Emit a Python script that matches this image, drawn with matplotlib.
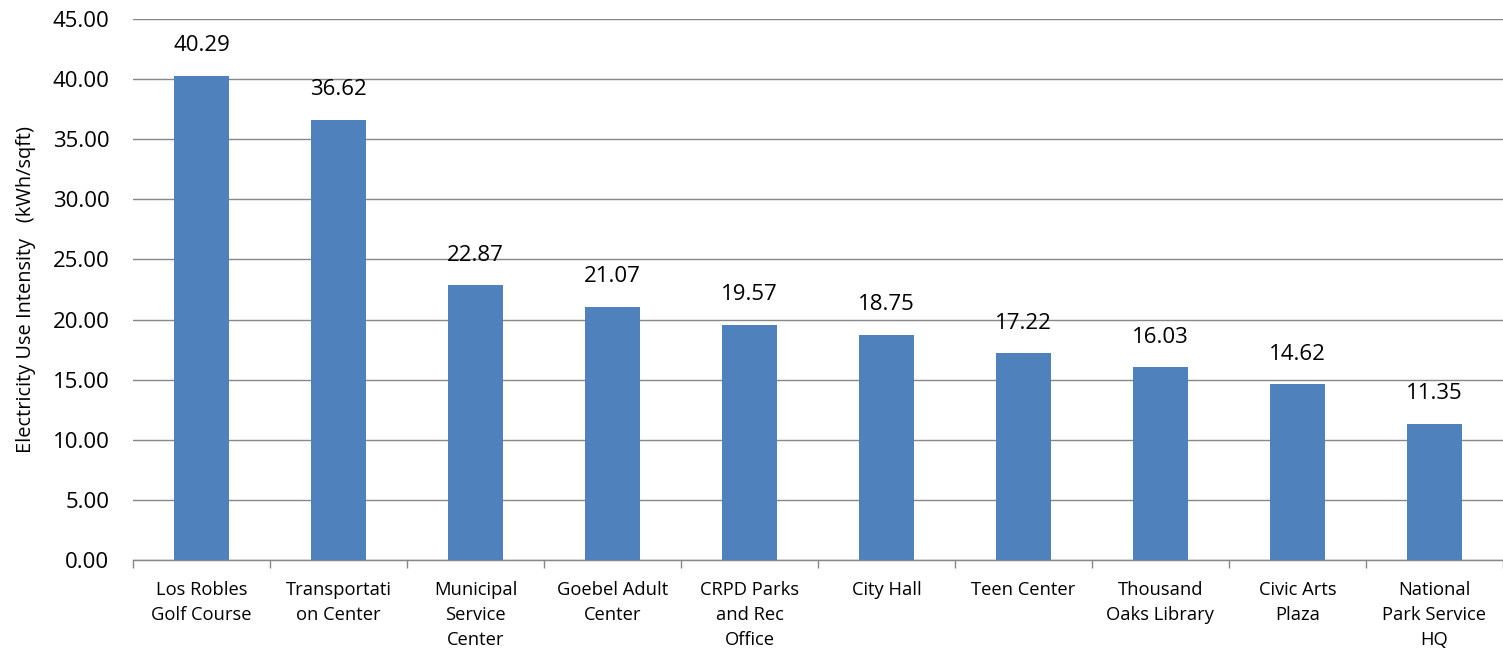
import matplotlib
matplotlib.use("Agg")
import matplotlib.pyplot as plt
import numpy as np

categories = ["Los Robles\nGolf Course", "Transportati\non Center", "Municipal\nService\nCenter",
              "Goebel Adult\nCenter", "CRPD Parks\nand Rec\nOffice", "City Hall", "Teen Center",
              "Thousand\nOaks Library", "Civic Arts\nPlaza", "National\nPark Service\nHQ"]
values = [40.29, 36.62, 22.87, 21.07, 19.57, 18.75, 17.22, 16.03, 14.62, 11.35]
yticks = [0, 5, 10, 15, 20, 25, 30, 35, 40, 45]

plt.rcParams['font.family'] = ['Open Sans', 'DejaVu Sans']

fig = plt.figure(figsize=(15.03, 6.52), dpi=100)
ax = fig.add_axes([133/1503, 1-560/652, 1-133/1503, (560-19)/652])

x = np.arange(len(values))
ax.bar(x, values, width=0.4, color='#4F81BD', zorder=3)
for xi, v in zip(x, values):
    ax.annotate(f"{v:.2f}", (xi, v), xytext=(0, 14), textcoords='offset points',
                ha='center', va='bottom', fontsize=16, color='#000000')

ax.set_xlim(-0.5, len(values) - 0.5)
ax.set_ylim(0, 45)
ax.set_yticks(yticks)
ax.set_yticklabels([f"{t:.2f}" for t in yticks], fontsize=16)
ax.yaxis.grid(True, color='#878787', linewidth=1.0, zorder=0)
ax.set_xticks(x)
ax.set_xticklabels(categories, fontsize=13.2, linespacing=1.5, va='top')
ax.tick_params(axis='x', which='major', length=0, pad=15)
ax.set_xticks(np.arange(-0.5, len(values)), minor=True)
ax.tick_params(axis='x', which='minor', length=6, color='#878787', width=1)
ax.tick_params(axis='y', length=0, pad=17)
for s in ['top', 'right', 'left']:
    ax.spines[s].set_visible(False)
ax.spines['bottom'].set_color('#878787')
ax.spines['bottom'].set_linewidth(1.0)
ax.set_ylabel("Electricity Use Intensity   (kWh/sqft)", fontsize=14.4)
ax.yaxis.set_label_coords(-97/1370, 0.5)

fig.savefig("out.png", dpi=100)
